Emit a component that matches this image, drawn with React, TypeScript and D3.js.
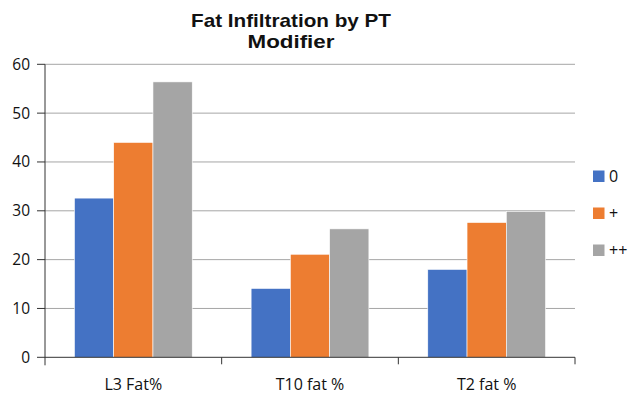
import React from "react";
import * as d3 from "d3";

const categories = ["L3 Fat%", "T10 fat %", "T2 fat %"];
const seriesNames = ["0", "+", "++"];
const values0 = [32.6, 14.1, 18.0];
const valuesPlus = [44.0, 21.1, 27.6];
const valuesPlusPlus = [56.4, 26.3, 29.9];
const colors = ["#4472C4", "#ED7D31", "#A5A5A5"];
const yTicks = [0, 10, 20, 30, 40, 50, 60];

const W = 629, H = 397;
const left = 45, right = 575, top = 64.3, bottom = 357.3;
const font = "'Open Sans', 'Noto Sans', sans-serif";
const titleFont = "'Liberation Sans', Arial, sans-serif";

export default function App() {
  const series = [values0, valuesPlus, valuesPlusPlus];
  const x = d3.scaleBand<string>().domain(categories).range([left, right]).paddingInner(1 / 3).paddingOuter(1 / 6);
  const xs = d3.scaleBand<string>().domain(seriesNames).range([0, x.bandwidth()]);
  const y = d3.scaleLinear().domain([0, 60]).range([bottom, top]);
  const step = x.step();
  return (
    <svg width={W} height={H} style={{ position: "absolute", left: 0, top: 0, background: "#fff" }}>
      <text x={291} y={26.5} textAnchor="middle" fontFamily={titleFont} fontWeight="bold" fontSize={18.5} textLength={200} lengthAdjust="spacingAndGlyphs" fill="#111">Fat Infiltration by PT</text>
      <text x={291} y={47.5} textAnchor="middle" fontFamily={titleFont} fontWeight="bold" fontSize={18.5} textLength={87} lengthAdjust="spacingAndGlyphs" fill="#111">Modifier</text>
      {yTicks.map((t) => (
        <g key={t}>
          {t > 0 && <line x1={left} x2={right} y1={y(t)} y2={y(t)} stroke="#A6A6A6" strokeWidth={1} />}
          <line x1={left - 8} x2={left} y1={y(t)} y2={y(t)} stroke="#333" strokeWidth={1} />
          <text x={30} y={y(t) + 5.5} textAnchor="end" fontFamily={font} fontSize={15.5} fill="#111">{t}</text>
        </g>
      ))}
      {series.map((vals, si) =>
        categories.map((c, ci) => (
          <rect key={si + "-" + ci} x={(x(c) ?? 0) + (xs(seriesNames[si]) ?? 0)} y={y(vals[ci])}
            width={xs.bandwidth()} height={bottom - y(vals[ci])} fill={colors[si]} stroke="#fff" strokeWidth={0.6} />
        ))
      )}
      <line x1={left} x2={left} y1={top} y2={bottom + 8} stroke="#333" strokeWidth={1} />
      <line x1={left} x2={right} y1={bottom} y2={bottom} stroke="#333" strokeWidth={1} />
      {categories.map((c, i) => (
        <g key={c}>
          <line x1={left + step * (i + 1)} x2={left + step * (i + 1)} y1={bottom} y2={bottom + 7} stroke="#333" strokeWidth={1} />
          <text x={(x(c) ?? 0) + x.bandwidth() / 2} y={390} textAnchor="middle" fontFamily={font} fontSize={16} fill="#111">{c}</text>
        </g>
      ))}
      {seriesNames.map((n, i) => (
        <g key={n}>
          <rect x={593} y={170.5 + i * 37} width={11.5} height={11.5} fill={colors[i]} />
          <text x={609} y={182 + i * 37} fontFamily={font} fontSize={16} fill="#111">{n}</text>
        </g>
      ))}
    </svg>
  );
}
